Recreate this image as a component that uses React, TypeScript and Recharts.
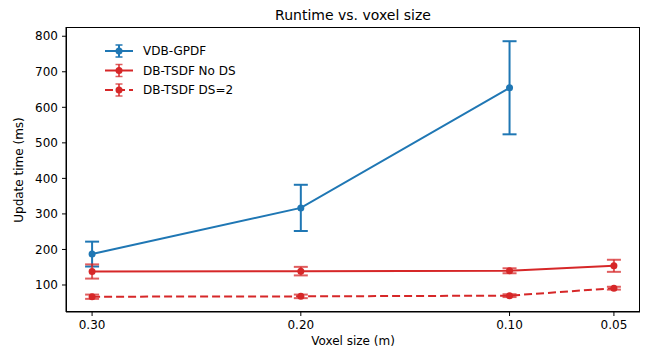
import * as React from 'react';
import { LineChart, Line, XAxis, YAxis, ErrorBar } from 'recharts';

// voxel sizes on the x axis (reversed, linear)
const SIZES = [0.3, 0.2, 0.1, 0.05];
const X_TICKS = [0.3, 0.2, 0.1, 0.05];
const Y_TICKS = [100, 200, 300, 400, 500, 600, 700, 800];

// VDB-GPDF has no run at 0.05
const VDB_GPDF = [187, 317, 655];
const VDB_GPDF_ERR = [35, 65, 131];
const NO_DS = [138, 139, 140, 154];
const NO_DS_ERR = [20, 12, 7, 17];
const DS2 = [67, 68, 70, 91];
const DS2_ERR = [6, 5, 4, 4];

const BLUE = '#1f77b4';
const RED = '#d62728';
const FONT = '"DejaVu Sans", sans-serif';

const W = 645;
const H = 354;
const MARGIN = { top: 27, right: 5, bottom: 0, left: 0 };
const Y_AXIS_W = 66;
const X_AXIS_H = 42;

const SERIES = [
  { name: 'VDB-GPDF', values: VDB_GPDF, errors: VDB_GPDF_ERR, color: BLUE, dash: undefined as string | undefined, barOpacity: 1 },
  { name: 'DB-TSDF No DS', values: NO_DS, errors: NO_DS_ERR, color: RED, dash: undefined, barOpacity: 0.75 },
  { name: 'DB-TSDF DS=2', values: DS2, errors: DS2_ERR, color: RED, dash: '8 4', barOpacity: 0.75 },
];

const seriesData = SERIES.map(s =>
  s.values.map((v, i) => ({ size: SIZES[i], value: v, err: s.errors[i] }))
);

function LegendBox() {
  return (
    <svg width={160} height={70} style={{ position: 'absolute', left: 100, top: 38 }}>
      {SERIES.map((s, i) => {
        const y = 13 + i * 19.5;
        return (
          <g key={s.name}>
            <line x1={5} x2={33} y1={y} y2={y} stroke={s.color} strokeWidth={2} strokeDasharray={s.dash} />
            <line x1={19} x2={19} y1={y - 6} y2={y + 6} stroke={s.color} strokeWidth={2} strokeOpacity={s.barOpacity} />
            <line x1={15.5} x2={22.5} y1={y - 6} y2={y - 6} stroke={s.color} strokeWidth={1.5} strokeOpacity={s.barOpacity} />
            <line x1={15.5} x2={22.5} y1={y + 6} y2={y + 6} stroke={s.color} strokeWidth={1.5} strokeOpacity={s.barOpacity} />
            <circle cx={19} cy={y} r={3.5} fill={s.color} />
            <text x={43} y={y} dominantBaseline="central" fontSize={12} fontFamily={FONT} fill="#000">
              {s.name}
            </text>
          </g>
        );
      })}
    </svg>
  );
}

export default function App() {
  const plotLeft = MARGIN.left + Y_AXIS_W;
  const plotTop = MARGIN.top;
  const plotW = W - MARGIN.right - plotLeft;
  const plotH = H - MARGIN.bottom - X_AXIS_H - plotTop;
  return (
    <div style={{ position: 'absolute', left: 0, top: 0, width: W, height: H, background: '#fff', fontFamily: FONT }}>
      <div style={{ position: 'absolute', left: plotLeft, width: plotW, top: 7, textAlign: 'center', fontSize: 14, color: '#000' }}>
        Runtime vs. voxel size
      </div>
      <LineChart width={W} height={H} margin={MARGIN}>
        <XAxis
          type="number"
          dataKey="size"
          domain={[0.0375, 0.3125]}
          allowDataOverflow
          reversed
          ticks={X_TICKS}
          tickFormatter={(v: number) => v.toFixed(2)}
          height={X_AXIS_H}
          tickSize={4}
          tickMargin={4}
          stroke="#000"
          tick={{ fill: '#000', fontSize: 12, fontFamily: FONT }}
          label={{
            content: () => (
              <text x={353} y={341} textAnchor="middle" dominantBaseline="central" fontSize={12} fontFamily={FONT} fill="#000">
                Voxel size (m)
              </text>
            ),
          }}
        />
        <YAxis
          type="number"
          domain={[24, 826]}
          allowDataOverflow
          ticks={Y_TICKS}
          width={Y_AXIS_W}
          tickSize={4}
          tickMargin={4}
          stroke="#000"
          tick={{ fill: '#000', fontSize: 12, fontFamily: FONT }}
          label={{
            content: () => (
              <text x={19} y={170} transform="rotate(-90 19 170)" textAnchor="middle" dominantBaseline="central" fontSize={12} fontFamily={FONT} fill="#000">
                Update time (ms)
              </text>
            ),
          }}
        />
        {SERIES.map((s, i) => (
          <Line
            key={s.name}
            data={seriesData[i]}
            dataKey="value"
            name={s.name}
            type="linear"
            stroke={s.color}
            strokeWidth={2}
            strokeDasharray={s.dash}
            dot={{ r: 3.5, fill: s.color, stroke: s.color, strokeWidth: 0 }}
            activeDot={false}
            isAnimationActive={false}
          >
            <ErrorBar
              dataKey="err"
              direction="y"
              width={7}
              stroke={s.color}
              strokeWidth={2}
              strokeOpacity={s.barOpacity}
              isAnimationActive={false}
            />
          </Line>
        ))}
      </LineChart>
      {/* plot frame (matplotlib spines) */}
      <svg width={W} height={H} style={{ position: 'absolute', left: 0, top: 0, pointerEvents: 'none' }}>
        <rect x={plotLeft + 0.5} y={plotTop + 0.5} width={plotW - 1} height={plotH - 1} fill="none" stroke="#000" strokeWidth={1} />
      </svg>
      <LegendBox />
    </div>
  );
}
